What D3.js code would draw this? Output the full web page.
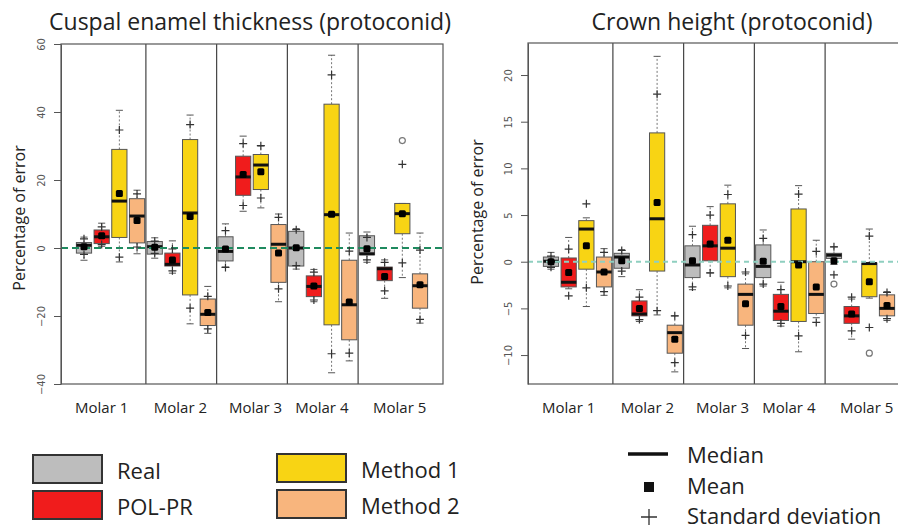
<!DOCTYPE html>
<html>
<head>
<meta charset="utf-8">
<script src="https://cdn.jsdelivr.net/npm/d3@7"></script>
<style>
  body { margin: 0; background: #fff; }
  svg { display: block; font-family: "Open Sans", "Noto Sans", sans-serif; }
</style>
</head>
<body>
<script>
// Groups and methods, in plotting order: each molar holds four boxes.
const molars = ["Molar 1", "Molar 2", "Molar 3", "Molar 4", "Molar 5"];
const methods = ["Real", "POL-PR", "Method 1", "Method 2"];
const methodColors = ["#bdbdbd", "#f01c1c", "#f8d414", "#f8b57d"];

// Cuspal enamel thickness (protoconid): percentage of error, 20 boxes
const enamelLow    = [-3.6, 0.5, -4.1, -1.7,  -3.0, -7.4, -22.3, -25.1,  -5.6, 10.8, 11.8, -15.8,  -6.2, -15.8, -36.7, -33.2,  -4.2, -14.8, -8.7, -22.1];
const enamelQ1     = [-1.5, 1.3, 3.1, 1.5,    -1.8, -5.3, -13.8, -22.8,  -3.8, 15.5, 17.2, -10.1,  -5.3, -14.3, -22.6, -27.0,  -2.0, -9.6, 4.2, -17.7];
const enamelMedian = [0.8, 3.3, 13.8, 9.4,    0.4, -4.8, 10.3, -19.5,    -1.0, 20.9, 24.4, 1.1,    0.0, -11.3, 9.8, -16.7,   -1.7, -6.1, 10.1, -11.1];
const enamelQ3     = [1.6, 5.3, 29.0, 14.5,   1.9, -1.5, 31.9, -15.0,    3.3, 27.0, 27.5, 6.9,     4.9, -8.2, 42.3, -3.6,    3.6, -5.6, 13.1, -7.6];
const enamelHigh   = [3.2, 7.3, 40.5, 17.0,   3.0, 2.1, 39.1, -11.3,     7.1, 32.9, 30.0, 10.0,    5.7, -6.3, 56.7, 4.4,     4.7, -3.5, 13.1, 4.4];
const enamelMean   = [0.4, 3.6, 16.0, 8.1,    0.2, -3.5, 9.3, -19.0,     -0.3, 21.6, 22.4, -1.5,   0.1, -11.2, 9.9, -15.9,   -0.2, -8.4, 10.1, -10.8];
const enamelSD     = [2.3, 2.6, 18.7, 7.8,    1.8, 3.2, 27.0, 4.8,       5.4, 9.1, 7.7, 10.5,      5.3, 4.1, 41.0, 15.0,     3.3, 4.2, 14.5, 10.2];
const enamelOutliers = [[18, 31.6]];
const enamelTicks = [-40, -20, 0, 20, 40, 60];

// Crown height (protoconid): percentage of error, 20 boxes
const crownLow    = [-0.8, -2.9, -4.8, -3.6,  -1.6, -6.4, -5.7, -11.8,  -3.0, -1.2, -2.8, -9.3,  -2.6, -6.9, -9.65, -6.0,  -0.3, -8.3, -3.9, -6.3];
const crownQ1     = [-0.5, -2.7, -0.8, -2.7,  -0.7, -5.8, -1.0, -9.8,   -1.7, 0.1, -1.6, -6.8,   -1.7, -6.3, -6.4, -5.55,  0.35, -6.6, -3.75, -5.8];
const crownMedian = [0.05, -2.2, 3.5, -1.1,   0.5, -5.6, 4.6, -7.6,     -0.35, 1.7, 1.45, -3.5,  -0.5, -5.3, 0.0, -3.5,    0.7, -5.8, -0.2, -5.0];
const crownQ3     = [0.5, 0.4, 4.4, 0.5,      0.9, -4.2, 13.8, -6.8,    1.7, 3.9, 6.2, -2.4,     1.8, -3.5, 5.65, 0.0,    0.9, -4.8, -0.15, -3.55];
const crownHigh   = [1.0, 2.6, 4.7, 1.4,      1.3, -3.0, 22.0, -5.8,    3.8, 5.9, 8.2, -1.3,     3.4, -2.2, 8.15, 2.3,    1.6, -4.0, 3.5, -3.2];
const crownMean   = [0.0, -1.15, 1.7, -1.1,   0.1, -5.0, 6.35, -8.3,    0.1, 1.9, 2.3, -4.5,     0.05, -4.8, -0.35, -2.7, 0.1, -5.6, -2.15, -4.7];
const crownSD     = [0.6, 2.5, 4.5, 2.1,      1.1, 1.2, 11.6, 2.5,      2.8, 3.1, 4.9, 3.4,      2.45, 1.8, 7.6, 3.8,     1.5, 1.8, 4.9, 1.4];
const crownOutliers = [[16, -2.4], [18, -9.8]];
const crownTicks = [-10, -5, 0, 5, 10, 15, 20];

// x positions of the group labels, in box-index units
const molarLabelPos = [2.0, 6.45, 10.7, 14.45, 18.85];

const W = 898, H = 532;
const svg = d3.select("body").append("svg").attr("width", W).attr("height", H);

function buildBoxes(low, q1, med, q3, high, mean, sd) {
  return low.map((_, i) => ({
    pos: i + 1,
    method: i % 4,
    low: low[i], q1: q1[i], med: med[i], q3: q3[i], high: high[i],
    mean: mean[i], sd: sd[i]
  }));
}

function drawPanel(cfg) {
  const g = svg.append("g");
  const x = d3.scaleLinear().domain([-0.3, 21.3]).range([cfg.left, cfg.left + 382]);
  const y = d3.scaleLinear().domain(cfg.yDomain).range([384, cfg.top]);
  const hw = x(0.43) - x(0);
  const sw = x(0.2) - x(0);
  const boxes = cfg.boxes;

  // group separators
  g.selectAll("line.sep").data([4.5, 8.5, 12.5, 16.5]).join("line")
    .attr("x1", d => x(d)).attr("x2", d => x(d))
    .attr("y1", y.range()[1]).attr("y2", y.range()[0])
    .attr("stroke", "#444").attr("stroke-width", 1.2);

  // whiskers
  const wh = g.append("g");
  wh.selectAll("line.up").data(boxes).join("line")
    .attr("x1", d => x(d.pos)).attr("x2", d => x(d.pos))
    .attr("y1", d => y(d.q3)).attr("y2", d => y(d.high))
    .attr("stroke", "#777").attr("stroke-dasharray", "2,2");
  wh.selectAll("line.dn").data(boxes).join("line")
    .attr("x1", d => x(d.pos)).attr("x2", d => x(d.pos))
    .attr("y1", d => y(d.q1)).attr("y2", d => y(d.low))
    .attr("stroke", "#777").attr("stroke-dasharray", "2,2");
  wh.selectAll("line.st1").data(boxes).join("line")
    .attr("x1", d => x(d.pos) - sw).attr("x2", d => x(d.pos) + sw)
    .attr("y1", d => y(d.high)).attr("y2", d => y(d.high))
    .attr("stroke", "#555");
  wh.selectAll("line.st2").data(boxes).join("line")
    .attr("x1", d => x(d.pos) - sw).attr("x2", d => x(d.pos) + sw)
    .attr("y1", d => y(d.low)).attr("y2", d => y(d.low))
    .attr("stroke", "#555");

  // boxes
  g.selectAll("rect.box").data(boxes).join("rect")
    .attr("x", d => x(d.pos) - hw).attr("width", 2 * hw)
    .attr("y", d => y(d.q3)).attr("height", d => y(d.q1) - y(d.q3))
    .attr("fill", d => methodColors[d.method])
    .attr("stroke", "#555").attr("stroke-width", 1);

  // medians
  g.selectAll("line.med").data(boxes).join("line")
    .attr("x1", d => x(d.pos) - hw).attr("x2", d => x(d.pos) + hw)
    .attr("y1", d => y(d.med)).attr("y2", d => y(d.med))
    .attr("stroke", "#111").attr("stroke-width", 3);

  // zero reference line
  g.append("line")
    .attr("x1", cfg.left).attr("x2", cfg.left + 382)
    .attr("y1", y(0)).attr("y2", y(0))
    .attr("stroke", cfg.zeroColor).attr("stroke-width", 2)
    .attr("stroke-dasharray", cfg.zeroDash);

  // outliers
  g.selectAll("circle.out").data(cfg.outliers).join("circle")
    .attr("cx", d => x(d[0] + 1)).attr("cy", d => y(d[1])).attr("r", 3)
    .attr("fill", "none").attr("stroke", "#777").attr("stroke-width", 1.2);

  // mean ± standard deviation
  const plus = "M-4,0H4M0,-4V4";
  g.selectAll("path.sdu").data(boxes).join("path")
    .attr("d", plus).attr("transform", d => `translate(${x(d.pos)},${y(d.mean + d.sd)})`)
    .attr("stroke", "#333").attr("stroke-width", 1.2).attr("fill", "none");
  g.selectAll("path.sdl").data(boxes).join("path")
    .attr("d", plus).attr("transform", d => `translate(${x(d.pos)},${y(d.mean - d.sd)})`)
    .attr("stroke", "#333").attr("stroke-width", 1.2).attr("fill", "none");

  // means
  g.selectAll("rect.mean").data(boxes).join("rect")
    .attr("x", d => x(d.pos) - 3.5).attr("y", d => y(d.mean) - 3.5)
    .attr("width", 7).attr("height", 7).attr("rx", 1.5)
    .attr("fill", "#000");

  // frame
  g.append("rect")
    .attr("x", cfg.left).attr("y", cfg.top)
    .attr("width", 382).attr("height", 384 - cfg.top)
    .attr("fill", "none").attr("stroke", "#555").attr("stroke-width", 1.2);

  // y axis
  const ax = g.append("g").attr("transform", `translate(${cfg.left},0)`)
    .call(d3.axisLeft(y).tickValues(cfg.ticks).tickSize(7).tickSizeOuter(0).tickFormat(d3.format("d")));
  ax.select(".domain").attr("stroke", "#555");
  ax.selectAll(".tick line").attr("stroke", "#555");
  ax.selectAll(".tick text")
    .attr("x", null).attr("dy", null)
    .attr("transform", "translate(-16,0) rotate(-90)")
    .attr("text-anchor", "middle")
    .attr("font-size", 10).attr("fill", "#555")
    .attr("font-family", "'DejaVu Sans', sans-serif");

  // group labels
  g.selectAll("text.molar").data(molars).join("text")
    .attr("x", (d, i) => x(molarLabelPos[i])).attr("y", 413)
    .attr("text-anchor", "middle").attr("font-size", 15).attr("fill", "#222")
    .text(d => d);

  // titles
  g.append("text").attr("x", cfg.titleX).attr("y", 30)
    .attr("text-anchor", "middle").attr("font-size", 23).attr("fill", "#222")
    .text(cfg.title);
  g.append("text")
    .attr("transform", `translate(${cfg.ylabX},${cfg.ylabY}) rotate(-90)`)
    .attr("text-anchor", "middle").attr("font-size", 16).attr("fill", "#222")
    .text("Percentage of error");
}

drawPanel({
  left: 61, top: 44, yDomain: [-40, 60], ticks: enamelTicks,
  boxes: buildBoxes(enamelLow, enamelQ1, enamelMedian, enamelQ3, enamelHigh, enamelMean, enamelSD),
  outliers: enamelOutliers,
  zeroColor: "#1f8a5f", zeroDash: "7,4",
  title: "Cuspal enamel thickness (protoconid)", titleX: 250,
  ylabX: 25, ylabY: 218
});

drawPanel({
  left: 528, top: 43, yDomain: [-13.1, 23.43], ticks: crownTicks,
  boxes: buildBoxes(crownLow, crownQ1, crownMedian, crownQ3, crownHigh, crownMean, crownSD),
  outliers: crownOutliers,
  zeroColor: "#8fcfc0", zeroDash: "5,4",
  title: "Crown height (protoconid)", titleX: 732,
  ylabX: 483, ylabY: 212
});

// legend: fill colours
const legPos = [[33, 455], [33, 491], [277, 454], [277, 490]];
const leg = svg.append("g");
leg.selectAll("rect").data(methods).join("rect")
  .attr("x", (d, i) => legPos[i][0]).attr("y", (d, i) => legPos[i][1])
  .attr("width", 69).attr("height", 28)
  .attr("fill", (d, i) => methodColors[i])
  .attr("stroke", "#333").attr("stroke-width", 2);
leg.selectAll("text").data(methods).join("text")
  .attr("x", (d, i) => legPos[i][0] + 84).attr("y", (d, i) => legPos[i][1] + 24)
  .attr("font-size", 22).attr("fill", "#222")
  .text(d => d);

// legend: symbols
const sym = svg.append("g");
sym.append("line").attr("x1", 628).attr("x2", 668).attr("y1", 454).attr("y2", 454)
  .attr("stroke", "#111").attr("stroke-width", 3.5);
sym.append("rect").attr("x", 644).attr("y", 482).attr("width", 10).attr("height", 10).attr("fill", "#111");
sym.append("path").attr("d", "M641,517H657M649,509V525").attr("stroke", "#333").attr("stroke-width", 1.3);
sym.selectAll("text").data(["Median", "Mean", "Standard deviation"]).join("text")
  .attr("x", 687).attr("y", (d, i) => 463 + i * 30.5)
  .attr("font-size", 22).attr("fill", "#222")
  .text(d => d);
</script>
</body>
</html>
